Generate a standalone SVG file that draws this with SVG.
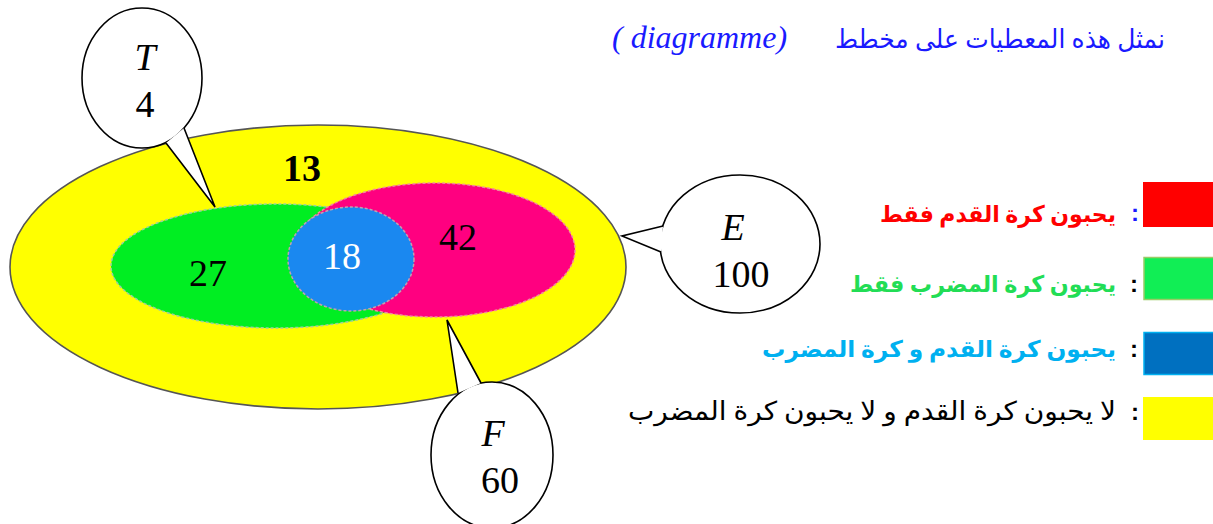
<svg xmlns="http://www.w3.org/2000/svg" width="1213" height="524" viewBox="0 0 1213 524">
<style>
.num{font-family:"Liberation Serif","DejaVu Serif",serif;font-size:38px;text-anchor:middle}
.ar{font-family:"Liberation Serif","DejaVu Serif","DejaVu Sans",serif;font-size:26px;text-anchor:end}
.arb{font-family:"Liberation Serif","DejaVu Serif","DejaVu Sans",serif;font-size:23px;font-weight:bold;text-anchor:end}
.bubble{fill:#fff;stroke:#000;stroke-width:1.6}
.ptr{fill:none;stroke:#000;stroke-width:1.6;stroke-linejoin:miter}
.colon{font-family:"Liberation Sans","DejaVu Sans",sans-serif;font-size:24px;font-weight:bold;text-anchor:middle}
</style>
<rect width="1213" height="524" fill="#fff"/>
<g id="title">
<text x="1165" y="48" class="ar" fill="#1a1aff" font-size="28" textLength="330" lengthAdjust="spacingAndGlyphs">نمثل هذه المعطيات على مخطط</text>
<text x="612" y="48" font-family="Liberation Serif,serif" font-style="italic" font-size="32" fill="#1a1aff">( diagramme)</text>
</g>
<g id="sets">
<ellipse id="E" cx="318" cy="267" rx="308" ry="142" fill="#ffff00" stroke="#555" stroke-width="1.6"/>
<ellipse id="T" cx="276" cy="266" rx="165" ry="62" fill="#00ee22" stroke="#9ccfa0" stroke-width="1.5" stroke-dasharray="3 2"/>
<ellipse id="F" cx="435" cy="250" rx="140" ry="67" fill="#ff0080" stroke="#f08aa0" stroke-width="1.5" stroke-dasharray="3 2"/>
<ellipse id="TF" cx="351" cy="259" rx="63" ry="52" fill="#1a88f0" stroke="#c0a0b0" stroke-width="1.5" stroke-dasharray="3 2"/>
<text x="302" y="181" class="num" font-weight="bold" font-size="34" fill="#000">13</text>
<text x="208" y="286" class="num" fill="#000">27</text>
<text x="342" y="269" class="num" fill="#fff">18</text>
<text x="458" y="250" class="num" fill="#000">42</text>
</g>
<g id="connectors">
<g id="callout-T">
<ellipse cx="142" cy="78" rx="60" ry="70" class="bubble"/>
<polygon points="166,143 215,207 184,128" fill="#fff"/>
<polyline points="166,143 215,207 184,128" class="ptr"/>
</g>
<g id="callout-E">
<ellipse cx="740" cy="244" rx="80" ry="69" class="bubble"/>
<polygon points="663,226 622,236 661,252" fill="#fff"/>
<polyline points="663,226 622,236 661,252" class="ptr"/>
</g>
<g id="callout-F">
<ellipse cx="492" cy="455" rx="61" ry="73" class="bubble"/>
<polygon points="458,393 447,320 481,383" fill="#fff"/>
<polyline points="458,393 447,320 481,383" class="ptr"/>
</g>
</g>
<g id="callout-labels">
<text x="145" y="70" class="num" font-style="italic" font-size="32" fill="#000">T</text>
<text x="145" y="117" class="num" fill="#000">4</text>
<text x="733" y="240" class="num" font-style="italic" font-size="32" fill="#000">E</text>
<text x="741" y="287" class="num" fill="#000">100</text>
<text x="493" y="446" class="num" font-style="italic" font-size="32" fill="#000">F</text>
<text x="500" y="493" class="num" fill="#000">60</text>
</g>
<g id="legend">
<g id="leg-red">
<rect x="1143" y="182" width="72" height="45" fill="#ff0000"/>
<text x="1135" y="221" class="colon" fill="#1a1aff">:</text>
<text x="1116" y="222" class="arb" fill="#ff0000" textLength="236" lengthAdjust="spacingAndGlyphs">يحبون كرة القدم فقط</text>
</g>
<g id="leg-green">
<rect x="1144" y="257.5" width="72" height="42" fill="#11ee55" stroke="#99cc66" stroke-width="1.5"/>
<text x="1134" y="292" class="colon" fill="#000">:</text>
<text x="1116" y="292" class="arb" fill="#22dd55" textLength="266" lengthAdjust="spacingAndGlyphs">يحبون كرة المضرب فقط</text>
</g>
<g id="leg-blue">
<rect x="1144" y="332.5" width="72" height="42" fill="#0070c0" stroke="#00b0f0" stroke-width="1.5"/>
<text x="1134" y="357" class="colon" fill="#000">:</text>
<text x="1116" y="357" class="arb" fill="#00b0f0" textLength="354" lengthAdjust="spacingAndGlyphs">يحبون كرة القدم و كرة المضرب</text>
</g>
<g id="leg-yellow">
<rect x="1143" y="397" width="72" height="43" fill="#ffff00"/>
<text x="1135" y="420" class="colon" fill="#000" font-weight="normal">:</text>
<text x="1116" y="420" class="ar" fill="#000" textLength="488" lengthAdjust="spacingAndGlyphs">لا يحبون كرة القدم و لا يحبون كرة المضرب</text>
</g>
</g>
</svg>
